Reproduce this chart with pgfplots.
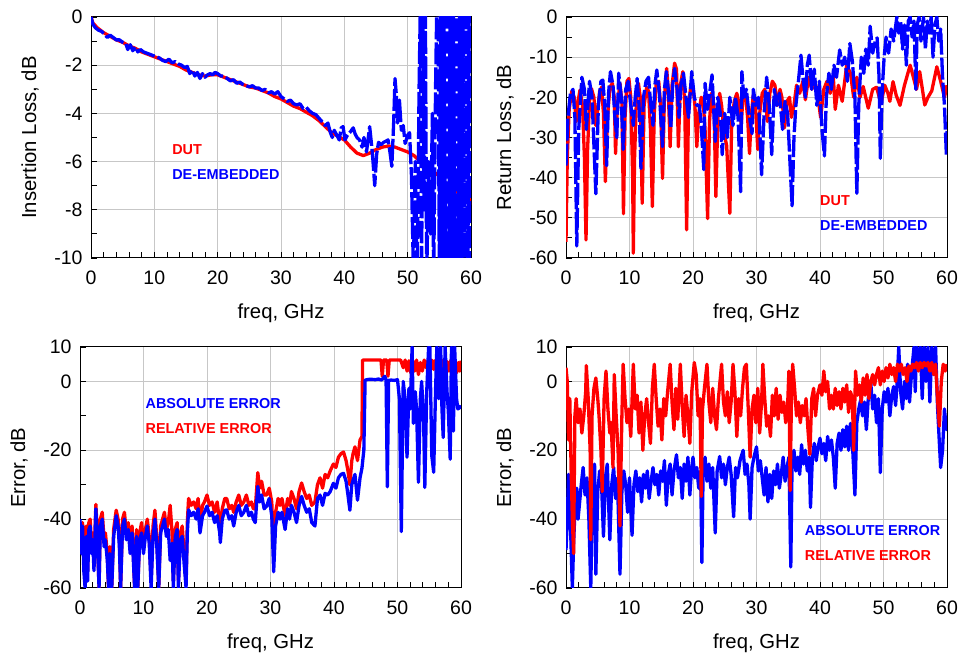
\documentclass[border=0pt]{standalone}
\usepackage{fontspec}
\setmainfont{Liberation Sans}
\usepackage{pgfplots}
\pgfplotsset{compat=1.18}
\tikzset{lg/.style={anchor=west, inner sep=0pt, font=\bfseries\fontsize{14.4}{16}\selectfont}}
\pgfplotsset{
  base/.style={
    scale only axis, width=380pt, height=241pt, anchor=south west,
    xmin=0, xmax=60, xtick={0,10,...,60}, minor x tick num=4,
    xtick pos=left, ytick pos=left, tick align=inside,
    grid=major, major grid style={black!22, line width=1pt},
    every tick/.style={black, line width=0.9pt},
    major tick length=6pt, minor tick length=6pt,
    axis line style={line width=1pt},
    tick label style={font=\fontsize{19.5}{21}\selectfont},
    label style={font=\fontsize{20.3}{23}\selectfont},
    /pgf/number format/assume math mode=true,
    xticklabel style={yshift=-9pt},
    yticklabel style={xshift=-5pt},
    xlabel={freq, GHz},
    xlabel style={at={(axis description cs:0.5,0)}, anchor=center, yshift=-55pt},
    ylabel style={at={(axis description cs:0,0.5)}, anchor=center, yshift=61pt},
    clip=true,
  },
  redl/.style={red, line width=3.3pt, line join=round},
  bluel/.style={blue, line width=3.3pt, line join=round},
  blued/.style={blue, line width=3.3pt, line join=round, dash pattern=on 22pt off 3pt},
}
\begin{document}
\begin{tikzpicture}
\useasboundingbox (0,0) rectangle (958pt,655pt);
% ---------- Panel 1: Insertion Loss ----------
\begin{axis}[base, at={(91pt,397pt)}, ymin=-10, ymax=0, ytick={-10,-8,...,0}, minor y tick num=1,
  ylabel={Insertion Loss, dB}]
\addplot[redl] coordinates {
(0,0) (0.3,-0.25) (1,-0.45) (2,-0.65) (3,-0.8) (4,-0.95) (5,-1.05) (6,-1.2) (7,-1.3) (8,-1.45)
(9,-1.55) (10,-1.65) (11,-1.75) (12,-1.85) (13,-1.95) (14,-2.05) (15,-2.2) (16,-2.3) (17,-2.4)
(18,-2.45) (19,-2.4) (20,-2.4) (21,-2.5) (22,-2.6) (23,-2.7) (24,-2.8) (25,-2.9) (26,-2.95)
(27,-3.05) (28,-3.15) (29,-3.3) (30,-3.4) (31,-3.55) (32,-3.7) (33,-3.8) (34,-3.95) (35,-4.1)
(36,-4.3) (37,-4.55) (38,-4.8) (39,-4.95) (40,-5.1) (41,-5.4) (42,-5.65) (43,-5.75) (44,-5.65)
(45,-5.5) (46,-5.4) (47,-5.35) (48,-5.4) (49,-5.5) (50,-5.6) (51,-5.75) (52,-6.0) (53,-6.2)
(54,-6.4) (55,-6.6) (56,-6.9) (57,-7.1) (58,-7.3) (59,-7.5) (59.6,-7.45) (60,-7.8)
};
\addplot[blued] coordinates {
(0,0) (0.3,-0.3) (0.7,-0.45) (1.2,-0.55) (1.7,-0.6) (2.2,-0.75) (2.6,-0.85) (3.0,-0.75) (3.5,-0.85)
(4.0,-0.95) (4.5,-0.95) (5.0,-1.05) (5.5,-1.1) (5.8,-1.35) (6.2,-1.15) (6.6,-1.4) (7.0,-1.25)
(7.4,-1.45) (7.8,-1.35) (8.3,-1.45) (8.8,-1.5) (9.3,-1.55) (9.8,-1.6) (10.3,-1.65) (10.8,-1.7)
(11.3,-1.8) (11.8,-1.85) (12.3,-1.75) (12.8,-1.9) (13.3,-1.85) (13.8,-1.95) (14.3,-2.0) (14.8,-2.1)
(15.2,-2.05) (15.6,-2.35) (16.0,-2.2) (16.4,-2.45) (16.8,-2.3) (17.2,-2.55) (17.6,-2.35) (18.0,-2.5)
(18.4,-2.4) (18.8,-2.35) (19.2,-2.4) (19.6,-2.3) (20.0,-2.35) (20.5,-2.45) (21.0,-2.45) (21.5,-2.55)
(22.0,-2.65) (22.5,-2.6) (23.0,-2.75) (23.5,-2.7) (24.0,-2.8) (24.5,-2.85) (25.0,-2.9) (25.5,-2.85)
(26.0,-2.95) (26.5,-2.95) (27.0,-3.05) (27.5,-3.0) (28.0,-3.15) (28.5,-3.1) (29.0,-3.2) (29.5,-3.1)
(30.0,-3.3) (30.5,-3.4) (31.0,-3.5) (31.5,-3.45) (32.0,-3.6) (32.5,-3.65) (33.0,-3.6) (33.5,-3.8)
(34.0,-3.75) (34.5,-3.9) (35.0,-4.0) (35.5,-4.05) (36.0,-4.2) (36.5,-4.35) (37.0,-4.5) (37.4,-4.4)
(37.8,-4.8) (38.1,-5.0) (38.4,-4.7) (38.8,-4.9) (39.2,-5.1) (39.5,-4.6) (39.8,-4.55) (40.1,-5.1)
(40.5,-4.9) (41.0,-4.75) (41.4,-4.6) (41.7,-4.85) (42.0,-5.0) (42.4,-5.1) (42.8,-5.4) (43.1,-5.0)
(43.5,-5.6) (44.0,-4.55) (44.3,-5.3) (44.5,-5.9) (44.8,-7.0) (45.1,-5.7) (45.4,-5.2) (45.8,-5.3)
(46.2,-5.2) (46.6,-5.15) (46.9,-5.1) (47.2,-5.6) (47.5,-6.2) (47.8,-4.3) (48.0,-2.55) (48.2,-3.2)
(48.4,-4.4) (48.7,-3.45) (49.0,-4.7) (49.3,-4.5) (49.6,-5.25) (50.0,-4.9) (50.3,-4.8) (50.6,-6.6)
(50.9,-10.5) (51.2,-6) (51.5,-11) (51.8,-3) (52.0,0.5) (52.2,-11) (52.4,0.5) (52.6,-8) (52.8,0.5)
(53.0,-11) (53.3,-6) (53.6,-9) (53.9,-4) (54.1,-11) (54.4,-3) (54.6,0.5) (54.8,0.5) (55.0,-11)
(55.2,0.5) (55.5,-11) (55.7,0.5) (56.0,-11) (56.2,0.5) (56.5,-11) (56.7,0.5) (57.0,-11) (57.2,0.5)
(57.5,-11) (57.7,0.5) (58.0,-11) (58.2,0.5) (58.5,-11) (58.7,0.5) (59.0,-11) (59.2,0.5) (59.5,-11)
(59.7,0.5) (59.9,-10) (60.0,-10)
};
\node[lg, text=red] at (axis cs:12.8,-5.5) {DUT};
\node[lg, text=blue] at (axis cs:12.8,-6.55) {DE-EMBEDDED};
\end{axis}
% ---------- Panel 2: Return Loss ----------
\begin{axis}[base, at={(566pt,397pt)}, width=381pt, ymin=-60, ymax=0, ytick={-60,-50,...,0}, minor y tick num=1,
  ylabel={Return Loss, dB}]
\addplot[redl] coordinates {
(0.0,-56) (0.2,-35) (0.5,-23) (0.9,-18.5) (1.3,-20) (1.6,-26) (1.9,-21) (2.2,-18.2) (2.6,-22) (2.9,-35)
(3.15,-55.5) (3.4,-33) (3.7,-21) (4.0,-17.8) (4.4,-20) (4.7,-27) (5.0,-23) (5.3,-18.5) (5.6,-17.5)
(5.9,-24) (6.2,-41) (6.5,-26) (6.9,-17.5) (7.3,-16.5) (7.6,-20) (7.8,-34) (8.1,-22) (8.5,-16.5)
(8.8,-21) (9.05,-49) (9.3,-25) (9.6,-16) (9.9,-15.3) (10.2,-20) (10.5,-40) (10.6,-58.8) (10.8,-35)
(11.1,-20) (11.4,-16.5) (11.7,-20) (12.0,-46.4) (12.3,-22) (12.7,-17.5) (13.0,-18.5) (13.3,-28)
(13.6,-47.2) (13.9,-24) (14.2,-16.5) (14.6,-16) (14.9,-22) (15.2,-40.2) (15.5,-20) (15.85,-12.8)
(16.1,-18) (16.4,-32.3) (16.7,-17) (17.1,-11.5) (17.4,-13) (17.7,-32.3) (18.0,-17) (18.4,-13.6)
(18.7,-22) (19.0,-53) (19.3,-22) (19.7,-16.5) (20.0,-17.4) (20.3,-22) (20.6,-32.3) (20.9,-24)
(21.3,-20) (21.6,-21) (21.9,-28) (22.3,-50.2) (22.6,-26) (22.9,-19) (23.3,-22) (23.6,-44.7)
(23.9,-26) (24.2,-19) (24.5,-22) (24.9,-29) (25.3,-32) (25.8,-48.9) (26.1,-26) (26.5,-21)
(26.9,-19) (27.3,-22) (27.6,-27) (27.9,-18.6) (28.3,-20) (28.6,-25) (28.9,-34) (29.2,-24)
(29.5,-19.4) (29.8,-21) (30.2,-33) (30.5,-24) (30.9,-19) (31.3,-18) (31.7,-26) (32.1,-19)
(32.5,-16) (32.9,-17) (33.3,-22) (33.7,-18) (34.0,-20) (34.4,-27.6) (34.8,-21) (35.2,-20)
(35.5,-25) (35.9,-22) (36.3,-17) (36.8,-19) (37.3,-16) (37.7,-20.6) (38.2,-15) (38.7,-18)
(39.2,-16) (39.6,-19) (40.1,-25) (40.6,-18) (41.1,-16) (41.6,-19) (42.1,-15) (42.4,-23)
(42.9,-17) (43.5,-21) (44.2,-12) (44.8,-14) (45.3,-20) (45.8,-15) (46.3,-20) (46.8,-17.3)
(47.6,-22.7) (48.3,-18) (48.9,-17.5) (49.6,-21.5) (50.2,-17) (50.7,-19) (51.0,-21) (51.5,-16.1)
(52.0,-19.5) (52.6,-22) (53.3,-17) (54.2,-12) (54.7,-15) (55.2,-18) (55.7,-13.6) (56.5,-21.9)
(57.0,-20) (57.6,-18.4) (58.4,-12.4) (59.0,-16) (59.6,-20) (60.0,-17)
};
\addplot[blued] coordinates {
(0.0,-37) (0.3,-25) (0.7,-19) (1.1,-18) (1.4,-25) (1.7,-57) (2.0,-28) (2.5,-15) (2.9,-18) (3.2,-28)
(3.7,-16) (4.1,-20) (4.7,-44) (5.1,-22) (5.5,-16) (5.8,-15.7) (6.1,-22) (6.4,-37) (6.7,-19)
(7.0,-13.6) (7.4,-17) (7.7,-25) (8.0,-30) (8.3,-14) (8.7,-20) (9.0,-33) (9.4,-18) (9.8,-16)
(10.2,-22) (10.6,-27) (10.9,-20) (11.2,-15.3) (11.5,-22) (11.8,-37.7) (12.2,-20) (12.6,-16)
(13.0,-15) (13.3,-21) (13.7,-27) (14.0,-17) (14.3,-13.2) (14.7,-19) (15.2,-32.3) (15.5,-18)
(15.8,-13.6) (16.1,-18) (16.5,-27.7) (16.8,-17) (17.1,-12.8) (17.5,-18) (17.8,-25) (18.1,-17)
(18.5,-14) (18.9,-20) (19.3,-25) (19.8,-13.6) (20.2,-20) (20.6,-22) (21.0,-22) (21.3,-27)
(21.7,-38) (21.9,-16.5) (22.3,-23) (22.7,-18) (23.0,-14.4) (23.5,-31) (23.9,-20) (24.3,-24)
(24.6,-34.3) (25.0,-24) (25.4,-30) (25.8,-20) (26.3,-27) (26.7,-20) (27.1,-25) (27.5,-43.5)
(27.7,-13.6) (28.0,-20) (28.4,-18) (28.8,-24) (29.3,-29) (29.5,-18) (29.9,-22) (30.3,-20)
(30.8,-39.3) (31.2,-24) (31.6,-15) (32.0,-22) (32.4,-34.3) (32.8,-18) (33.2,-22) (33.6,-19)
(34.1,-28) (34.5,-21) (34.9,-24) (35.4,-40.5) (35.6,-47) (35.9,-30) (36.2,-22) (36.6,-16)
(37.0,-9.5) (37.3,-15) (37.7,-20) (38.0,-12) (38.3,-9.5) (38.7,-18) (39.1,-13) (39.5,-22)
(39.9,-16) (40.3,-28) (40.7,-34.6) (41.0,-20) (41.4,-14) (41.8,-18) (42.2,-12) (42.6,-15)
(43.1,-8.2) (43.5,-12) (43.9,-10) (44.3,-16) (44.7,-6.6) (45.1,-11) (45.5,-20) (45.8,-43.9)
(46.1,-22) (46.5,-10) (46.9,-14) (47.2,-8) (47.6,-12) (47.9,-2.3) (48.3,-9) (48.7,-6) (49.0,-5.2)
(49.3,-15) (49.5,-35.2) (49.8,-18) (50.1,-10) (50.4,-5) (50.8,-9) (51.2,-3) (51.6,-6) (52.1,0)
(52.4,-4) (52.7,-1) (53.0,-8) (53.3,-2) (53.6,-12) (53.9,-1) (54.2,0) (54.5,-5) (54.8,-1)
(55.1,-18) (55.3,-2) (55.6,0) (55.9,-6) (56.3,0) (56.6,-8) (56.9,-1) (57.2,-4) (57.5,0) (57.8,-10)
(58.1,-2) (58.4,0) (58.7,-6) (59.0,-3) (59.3,-15) (59.6,-22) (59.9,-34.4) (60.0,-28)
};
\node[lg, text=red] at (axis cs:40,-45.8) {DUT};
\node[lg, text=blue] at (axis cs:40,-52) {DE-EMBEDDED};
\end{axis}
% ---------- Panel 3: Error ----------
\begin{axis}[base, at={(80pt,67pt)}, width=381pt, ymin=-60, ymax=10, ytick={-60,-40,-20,0,10},
  minor ytick={-50,-30,-10}, ylabel={Error, dB}]
\addplot[redl] coordinates {
(0.0,-50) (0.2,-48) (0.4,-41) (0.6,-52) (0.8,-58) (1.0,-42) (1.2,-55) (1.4,-41) (1.6,-40) (1.8,-47)
(2.0,-44) (2.2,-52) (2.5,-35.7) (2.7,-43) (3.0,-60) (3.2,-40) (3.5,-38) (3.8,-46) (4.0,-44) (4.3,-50)
(4.5,-60) (4.7,-48) (5.0,-60) (5.3,-43) (5.7,-37.4) (6.0,-40) (6.2,-46) (6.4,-60) (6.7,-40) (7.0,-38)
(7.3,-44) (7.6,-41) (7.9,-48) (8.2,-42) (8.4,-50) (8.6,-60) (8.9,-43) (9.1,-60) (9.4,-44) (9.7,-41)
(10.0,-48) (10.3,-43) (10.6,-40) (10.9,-45) (11.2,-58) (11.5,-42) (11.8,-37.4) (12.1,-46) (12.4,-60)
(12.7,-42) (13.0,-40) (13.3,-38) (13.6,-43) (13.9,-41) (14.2,-36) (14.5,-44) (14.7,-58) (15.0,-43)
(15.3,-41) (15.5,-58) (15.8,-44) (16.1,-42) (16.4,-50) (16.7,-58) (16.9,-41) (17.1,-34) (17.5,-36)
(17.9,-35) (18.3,-37) (18.6,-34) (18.9,-41) (19.3,-36) (19.6,-35) (20.0,-33) (20.4,-36) (20.8,-35)
(21.2,-38) (21.6,-35) (22.0,-41) (22.1,-43) (22.4,-37) (22.8,-34) (23.1,-34) (23.5,-37) (23.9,-36)
(24.2,-38) (24.6,-35) (25.0,-33) (25.4,-36) (25.8,-35) (26.2,-33) (26.6,-36) (27.0,-35) (27.3,-37)
(27.6,-37) (28.0,-26.5) (28.3,-31) (28.6,-29) (29.0,-33) (29.4,-33) (29.8,-31) (30.2,-35) (30.5,-50)
(30.8,-38) (31.2,-34) (31.5,-36) (31.8,-34) (32.3,-39) (32.7,-34) (33.0,-36) (33.3,-32) (33.7,-34)
(34.1,-37) (34.5,-32) (34.9,-29.5) (35.3,-32) (35.7,-34) (36.1,-33) (36.5,-36) (37.0,-35) (37.4,-30)
(37.8,-28) (38.2,-31) (38.6,-27) (39.0,-28) (39.4,-26) (39.9,-24) (40.3,-25) (40.7,-22) (41.1,-21)
(41.5,-20.5) (41.9,-23) (42.2,-26) (42.5,-30) (42.8,-23) (43.0,-21) (43.3,-19) (43.7,-23) (44.1,-17)
(44.4,-16) (44.5,6.2) (45.5,6.2) (46.5,6.2) (47.4,6.2) (47.6,1.5) (47.8,6.2) (48.3,6.2) (48.5,1.5)
(48.7,6.2) (49.5,6.2) (50.5,6.2) (50.9,4) (51.2,6.2) (51.5,3) (51.8,6) (52.1,2.5) (52.4,6) (52.7,3)
(53.0,6.2) (53.3,2) (53.6,5.5) (53.9,3) (54.2,6.2) (54.5,4) (54.8,6) (55.1,2.5) (55.4,6.2) (55.7,3.5)
(56.0,6.2) (56.3,2.5) (56.6,6) (56.9,3) (57.2,6.2) (57.5,2.5) (57.8,5.8) (58.1,3) (58.4,6.2) (58.7,2.5)
(59.0,6) (59.3,2.5) (59.6,5.5) (59.8,3) (60.0,6)
};
\addplot[bluel] coordinates {
(0.0,-40) (0.2,-50) (0.4,-42) (0.6,-55) (0.8,-60) (1.0,-45) (1.2,-58) (1.4,-43) (1.6,-42) (1.8,-50)
(2.0,-46) (2.2,-55) (2.5,-37) (2.7,-45) (3.0,-60) (3.2,-42) (3.5,-40) (3.8,-48) (4.0,-46) (4.3,-52)
(4.5,-60) (4.7,-50) (5.0,-60) (5.3,-45) (5.7,-39) (6.0,-42) (6.2,-48) (6.4,-60) (6.7,-42) (7.0,-40)
(7.3,-46) (7.6,-43) (7.9,-50) (8.2,-44) (8.4,-52) (8.6,-60) (8.9,-45) (9.1,-60) (9.4,-46) (9.7,-44)
(10.0,-50) (10.3,-45) (10.6,-42) (10.9,-47) (11.2,-60) (11.5,-45) (11.8,-40) (12.1,-48) (12.4,-60)
(12.7,-44) (13.0,-42) (13.3,-40) (13.6,-45) (13.9,-43) (14.2,-52) (14.5,-47) (14.7,-60) (15.0,-45)
(15.3,-43) (15.5,-60) (15.8,-46) (16.1,-45) (16.4,-53) (16.7,-60) (16.9,-44) (17.1,-37.3) (17.5,-39)
(17.9,-38) (18.3,-40) (18.6,-37) (18.9,-44) (19.3,-39) (19.6,-38) (20.0,-36.2) (20.4,-39) (20.8,-38)
(21.2,-41) (21.6,-39) (22.0,-44) (22.1,-46.8) (22.4,-40) (22.8,-37.5) (23.1,-37.3) (23.5,-40)
(23.9,-39) (24.2,-42) (24.6,-38) (25.0,-36) (25.4,-39) (25.8,-38) (26.2,-36) (26.6,-39) (27.0,-38)
(27.3,-40) (27.6,-41) (28.0,-30.5) (28.3,-35) (28.6,-33) (29.0,-37) (29.4,-36.2) (29.8,-34)
(30.2,-39) (30.5,-55.3) (30.8,-42) (31.2,-38) (31.5,-40) (31.8,-38) (32.3,-43) (32.7,-37) (33.0,-40)
(33.3,-36) (33.7,-38) (34.1,-41) (34.5,-36) (34.9,-33.4) (35.3,-36) (35.7,-38) (36.1,-37) (36.5,-41)
(37.0,-42) (37.4,-34) (37.8,-33) (38.2,-36) (38.6,-32.5) (39.0,-33) (39.4,-32) (39.9,-29.6)
(40.3,-31) (40.7,-28) (41.1,-27) (41.5,-26.7) (41.9,-29) (42.2,-33) (42.5,-37.4) (42.8,-30)
(43.0,-28.7) (43.3,-27) (43.7,-34.5) (44.1,-28) (44.4,-25.2) (44.7,-20) (44.9,0.4) (45.5,0.6)
(46.0,0.6) (46.5,0.5) (47.0,0.7) (47.5,0.4) (48.0,1.5) (48.2,0.5) (48.4,-30.6) (48.6,0.3) (49.0,0.4)
(49.5,0.3) (50.0,0.5) (50.3,-5) (50.6,-43.6) (50.9,0) (51.2,-5) (51.5,-22) (51.8,-2) (52.0,-8)
(52.3,10) (52.5,-12.2) (52.8,-3) (53.0,-8) (53.3,-29.3) (53.6,-5) (53.8,0) (54.1,-10) (54.3,-30.8)
(54.6,-3) (54.9,10) (55.1,10) (55.4,-21.6) (55.7,-26.4) (56.0,-2) (56.2,10) (56.5,-5) (56.8,10)
(57.0,-8) (57.2,-16.3) (57.5,10) (57.8,-3) (58.0,-8.6) (58.3,-22.6) (58.5,10) (58.8,-14.4) (59.0,10)
(59.3,-5) (59.5,-8) (59.8,-7.6) (60.0,-7)
};
\node[lg, text=blue] at (axis cs:10.3,-6.4) {ABSOLUTE ERROR};
\node[lg, text=red] at (axis cs:10.3,-13.8) {RELATIVE ERROR};
\end{axis}
% ---------- Panel 4: Error ----------
\begin{axis}[base, at={(566pt,67pt)}, width=381pt, ymin=-60, ymax=10, ytick={-60,-40,-20,0,10},
  minor ytick={-50,-30,-10}, ylabel={Error, dB}]
\addplot[bluel] coordinates {
(0.0,-49) (0.2,-40) (0.4,-27) (0.6,-35) (0.8,-48) (1.0,-60) (1.2,-47) (1.4,-38) (1.7,-31) (1.9,-40)
(2.1,-36) (2.4,-30) (2.7,-25) (3.0,-33) (3.3,-28) (3.6,-40) (3.9,-60) (4.2,-30) (4.5,-24) (4.7,-56)
(5.0,-32) (5.3,-26) (5.6,-30) (5.9,-45) (6.2,-28) (6.5,-24) (6.9,-46) (7.2,-30) (7.5,-25) (7.8,-34)
(8.1,-28) (8.5,-56) (8.8,-32) (9.1,-26) (9.4,-30) (9.7,-38) (10.0,-28) (10.4,-44.7) (10.7,-30)
(11.0,-26) (11.3,-32) (11.6,-28) (11.9,-35) (12.2,-27) (12.5,-31) (12.8,-26) (13.1,-34) (13.4,-29)
(13.7,-25) (14.0,-30) (14.3,-27) (14.6,-33) (14.9,-26) (15.2,-29) (15.5,-23) (15.8,-36) (16.1,-27)
(16.4,-24) (16.7,-33) (17.0,-26) (17.4,-21.3) (17.7,-28) (18.0,-25) (18.3,-34) (18.6,-24) (18.9,-29)
(19.2,-22) (19.5,-33) (19.8,-25) (20.0,-22) (20.3,-28) (20.6,-25) (20.9,-31) (21.2,-26) (21.4,-52.6)
(21.6,-25) (21.9,-22) (22.2,-29) (22.5,-24) (22.8,-31) (23.1,-25) (23.5,-44) (23.8,-26) (24.2,-21.8)
(24.5,-28) (24.8,-24) (25.1,-30) (25.4,-25) (25.7,-22) (26.0,-27) (26.4,-39.3) (26.7,-25) (27.0,-28)
(27.4,-23) (27.9,-20) (28.2,-27) (28.5,-24) (28.8,-30) (29.0,-40) (29.3,-25) (29.6,-22) (30.0,-19)
(30.3,-26) (30.6,-23) (30.9,-28) (31.2,-33) (31.5,-25) (31.8,-35) (32.1,-27) (32.4,-34) (32.7,-26)
(33.0,-30) (33.3,-24) (33.6,-31) (33.9,-27) (34.2,-22) (34.5,-29) (34.8,-25) (35.1,-22) (35.4,-53.9)
(35.6,-24) (35.9,-20) (36.2,-26) (36.5,-22) (36.8,-27) (37.1,-18.4) (37.4,-24) (37.7,-20) (38.0,-26)
(38.3,-22) (38.5,-36.6) (38.8,-22) (39.1,-18) (39.4,-23) (39.7,-19) (40.0,-16.5) (40.3,-21) (40.6,-18)
(40.9,-23) (41.2,-16) (41.5,-20) (41.8,-17) (42.1,-22) (42.4,-31) (42.7,-18) (43.0,-15) (43.3,-20)
(43.6,-14) (43.9,-19) (44.2,-13) (44.5,-20) (44.8,-12.2) (45.1,-18) (45.5,-33) (45.8,-12) (46.1,-8)
(46.4,-5.4) (46.7,-10) (47.0,-6) (47.3,-14) (47.6,-5) (48.0,-0.5) (48.3,-8) (48.6,-4) (48.9,-12)
(49.2,-5) (49.5,-26.5) (49.8,-8) (50.1,-3) (50.4,-6) (50.7,-2) (51.0,-10) (51.3,-4) (51.6,-1.5)
(51.9,-7) (52.1,-2) (52.4,10) (52.7,-3) (53.0,-8) (53.3,0) (53.6,-5) (53.8,5) (54.1,-6) (54.4,2)
(54.8,10) (55.0,-3) (55.2,10) (55.5,4) (55.8,10) (56.1,-5) (56.4,10) (56.7,0) (57.0,10) (57.3,-6)
(57.6,10) (57.9,2) (58.2,10) (58.5,-7) (58.8,-18) (59.0,-25) (59.3,-20) (59.6,-8) (59.9,-14) (60.0,-10)
};
\addplot[redl] coordinates {
(0.0,4) (0.2,0) (0.4,-17) (0.6,-5) (0.8,-25) (1.0,-40) (1.2,-50) (1.4,-10) (1.6,-5) (1.9,-12) (2.2,-8)
(2.5,-15) (2.8,-10) (3.1,-3) (3.2,4.6) (3.5,-5) (3.8,-20) (3.9,-46) (4.1,-10) (4.4,-2) (4.7,1) (5.0,-5)
(5.2,-10) (5.5,-20) (5.7,-32) (6.0,-5) (6.3,3) (6.6,-8) (6.9,-15) (7.1,-12) (7.4,-25) (7.6,2) (7.9,-10)
(8.2,-20) (8.5,-42) (8.8,-10) (9.0,5) (9.3,-5) (9.6,-12) (9.9,-8) (10.2,-16) (10.6,5) (10.9,-8)
(11.2,-4) (11.5,-15) (11.8,-6) (12.1,-20) (12.4,-10) (12.7,-5) (13.0,-12) (13.3,-18) (13.6,-2)
(13.9,5) (14.2,-5) (14.5,-13) (14.8,-8) (15.1,-17) (15.4,-5) (15.7,-10) (16.0,-3) (16.4,5) (16.7,-6)
(17.0,-14) (17.3,-2) (17.6,-11) (18.0,5) (18.3,-7) (18.6,-16) (18.9,-4) (19.2,-10) (19.5,-18)
(19.8,-3) (20.2,5.5) (20.5,2) (20.8,-10) (21.1,-5) (21.3,-33.4) (21.5,-8) (21.8,-2) (22.2,5)
(22.5,-6) (22.8,-12) (23.1,-2) (23.4,-10) (23.7,-14) (24.0,-5) (24.5,5) (24.8,-6) (25.1,-10)
(25.4,-3) (25.7,-12) (26.0,-6) (26.3,5) (26.6,-3) (26.9,-16) (27.2,-5) (27.5,-10) (27.8,-2) (28.1,4)
(28.4,5) (28.7,-8) (29.0,-22) (29.3,-8) (29.6,-4) (29.9,-12) (30.2,-2) (30.5,-15) (30.8,-6) (31.0,5)
(31.3,-5) (31.6,-13) (31.9,-10) (32.2,-16) (32.5,-4) (32.8,-10) (33.1,-2) (33.4,-11) (33.7,-4)
(34.0,-9) (34.3,-6) (34.6,-12) (34.9,-7) (35.1,3) (35.3,-31.7) (35.5,-5) (35.7,5) (36.0,-2) (36.3,-10)
(36.6,-6) (36.9,-12) (37.2,-7) (37.5,-10) (37.8,-5) (38.1,-14) (38.4,-21.2) (38.7,-5) (39.0,-2)
(39.3,-10) (39.6,-4) (40.0,-1) (40.3,-4) (40.6,3) (40.9,-3) (41.2,0) (41.5,-8) (41.8,-4) (42.1,-8)
(42.4,-2) (42.7,-7) (43.0,-3) (43.3,-8) (43.6,-2) (43.9,-6) (44.2,-1) (44.5,-9) (44.8,-3) (45.1,-5)
(45.3,-20) (45.6,3) (45.9,-4) (46.2,-1) (46.5,-6) (46.8,1) (47.1,-4) (47.4,2) (47.7,-5) (48.0,0)
(48.3,2) (48.6,-1) (48.9,2) (49.2,4) (49.5,-1) (49.8,3) (50.1,0) (50.4,4) (50.7,1) (51.0,5) (51.3,2)
(51.6,4) (51.9,0) (52.2,5) (52.5,3) (52.8,5) (53.1,2) (53.4,4) (53.7,0) (54.0,4.5) (54.3,3) (54.6,5)
(54.9,4) (55.2,5.5) (55.5,3) (55.8,5.5) (56.1,4) (56.4,5.5) (56.7,4.5) (57.0,5.5) (57.3,3) (57.6,5.5)
(57.9,2) (58.2,5) (58.5,-5) (58.8,-13) (59.1,0) (59.4,5) (59.7,3) (60.0,5)
};
\node[lg, text=blue] at (axis cs:37.6,-43.2) {ABSOLUTE ERROR};
\node[lg, text=red] at (axis cs:37.6,-50.6) {RELATIVE ERROR};
\end{axis}
\end{tikzpicture}
\end{document}
